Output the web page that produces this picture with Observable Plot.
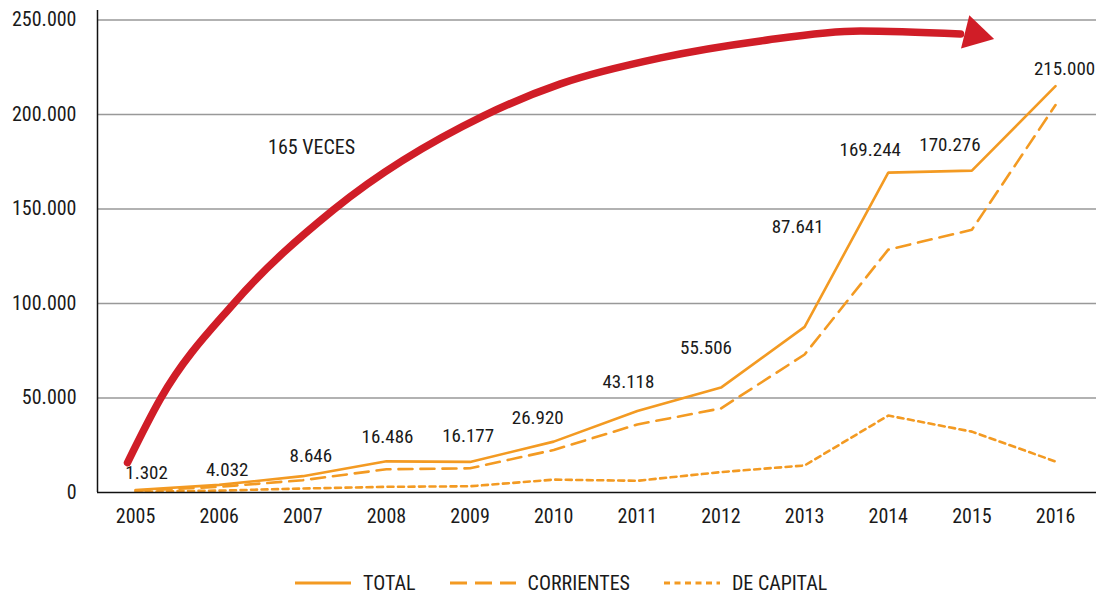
<!DOCTYPE html>
<html>
<head>
<meta charset="utf-8">
<script src="https://cdn.jsdelivr.net/npm/d3@7"></script>
<script src="https://cdn.jsdelivr.net/npm/@observablehq/plot@0.6"></script>
<style>
  body { margin: 0; background: #fff; }
  #chart { width: 1096px; }
  .legend {
    display: flex; align-items: center; height: 30px; margin-top: 20px; padding-left: 295px;
    font-family: "Liberation Sans Narrow", "Arial Narrow", "Roboto Condensed", "Liberation Sans", sans-serif;
    font-size: 20px; color: #1a1a1a;
  }
  .legend .item { display: flex; align-items: center; margin-right: 34px; }
  .legend svg { margin-right: 12px; }
</style>
</head>
<body>
<div id="chart"></div>
<script>
// Transferencias por año (valores en miles)
const years = [2005, 2006, 2007, 2008, 2009, 2010, 2011, 2012, 2013, 2014, 2015, 2016];
const total = [1302, 4032, 8646, 16486, 16177, 26920, 43118, 55506, 87641, 169244, 170276, 215000];
const corrientes = [900, 3000, 6500, 12300, 12800, 22500, 36000, 44500, 73000, 128500, 139000, 205000];
const capital = [400, 1000, 2100, 3000, 3300, 6800, 6200, 10800, 14300, 40700, 32200, 16400];
const seriesNames = ["TOTAL", "CORRIENTES", "DE CAPITAL"];
const yTicks = [0, 50000, 100000, 150000, 200000, 250000];

// Annotation: growth arrow (year, amount) and its caption
const arrowYears = [2004.904, 2005.299, 2006.172, 2007.367, 2009.161, 2010.081, 2011.277, 2012.473, 2013.668, 2014.864];
const arrowValues = [15855, 49680, 99890, 149570, 199250, 216160, 229900, 238880, 244170, 242580];
const arrowHead = {year: 2015.035, value: 242420};
const growthNote = {year: 2007.104, value: 182330, text: "165 VECES"};

// Pixel nudges for the value labels of the TOTAL series
const labelNudge = [[11, -17], [8, -15], [8, -20], [1, -24], [-2, -26], [-16, -24],
                    [-9, -29], [-15, -40], [-7, -100], [-18, -23], [-22, -26], [9, -17]];

const orange = "#f39a22";
const red = "#d01d27";
const font = `"Liberation Sans Narrow", "Arial Narrow", "Roboto Condensed", "Liberation Sans", sans-serif`;
const dashes = {TOTAL: null, CORRIENTES: "14 8", "DE CAPITAL": "6 4.5"};

const fmt = d3.formatLocale({decimal: ",", thousands: ".", grouping: [3], currency: ["$", ""]}).format(",d");

const rows = years.flatMap((year, i) => [
  {year, value: total[i], series: seriesNames[0]},
  {year, value: corrientes[i], series: seriesNames[1]},
  {year, value: capital[i], series: seriesNames[2]}
]);
const arrowPath = arrowYears.map((year, i) => ({year, value: arrowValues[i]}));
const xDomain = [2004.545, 2016.49];
const yDomain = [0, 255000];

const seriesLines = seriesNames.map(name => Plot.line(rows.filter(d => d.series === name), {
  x: "year", y: "value", stroke: orange, strokeWidth: 2.6,
  strokeDasharray: dashes[name], strokeLinejoin: "miter"
}));

const valueLabels = years.map((year, i) => Plot.text([{year, value: total[i]}], {
  x: "year", y: "value", text: d => fmt(d.value),
  dx: labelNudge[i][0], dy: labelNudge[i][1], fontSize: 19, fill: "#1a1a1a"
}));

const chart = Plot.plot({
  width: 1096,
  height: 548,
  marginLeft: 97,
  marginRight: 0,
  marginTop: 10,
  marginBottom: 56,
  style: {fontFamily: font, fontSize: "20px", color: "#1a1a1a", background: "#fff"},
  x: {domain: xDomain, ticks: years, tickFormat: d => String(d), tickSize: 0, tickPadding: 16, label: null},
  y: {domain: yDomain, ticks: yTicks, tickFormat: fmt, tickSize: 0, tickPadding: 21, label: null},
  marks: [
    Plot.ruleY(yTicks.filter(d => d > 0), {stroke: "#999", strokeWidth: 1.4}),
    ...seriesLines,
    Plot.ruleX([xDomain[0]], {y1: yDomain[0], y2: yDomain[1], stroke: "#111", strokeWidth: 1.5}),
    Plot.ruleY([0], {stroke: "#111", strokeWidth: 1.6}),
    Plot.line(arrowPath, {x: "year", y: "value", stroke: red, strokeWidth: 7.5, curve: "monotone-x", strokeLinecap: "round"}),
    Plot.dot([arrowHead], {x: "year", y: "value", symbol: "triangle", r: 12.8, fill: red, stroke: null, rotate: 104}),
    Plot.text([growthNote], {x: "year", y: "value", text: "text", fontSize: 20, fill: "#1a1a1a"}),
    ...valueLabels
  ]
});
document.getElementById("chart").appendChild(chart);

// Legend below the chart
const legend = document.createElement("div");
legend.className = "legend";
const sampleWidth = {TOTAL: 56, CORRIENTES: 66, "DE CAPITAL": 56};
for (const name of seriesNames) {
  const item = document.createElement("div");
  item.className = "item";
  const w = sampleWidth[name];
  const svg = d3.create("svg").attr("width", w).attr("height", 6);
  svg.append("line").attr("x1", 0).attr("x2", w).attr("y1", 3).attr("y2", 3)
    .attr("stroke", orange).attr("stroke-width", 3)
    .attr("stroke-dasharray", name === "CORRIENTES" ? "17 8" : dashes[name]);
  item.appendChild(svg.node());
  const label = document.createElement("span");
  label.textContent = name;
  item.appendChild(label);
  legend.appendChild(item);
}
document.getElementById("chart").appendChild(legend);
</script>
</body>
</html>
